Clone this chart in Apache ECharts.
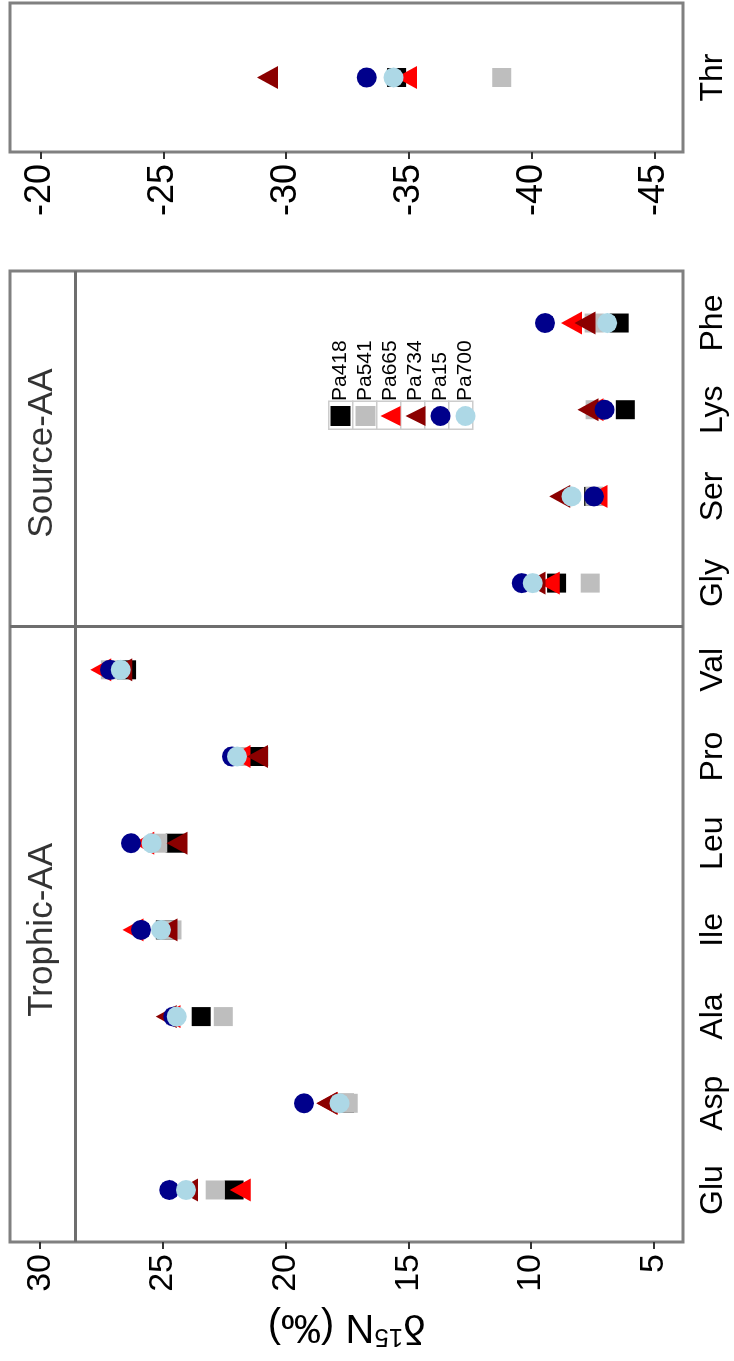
<!DOCTYPE html>
<html><head><meta charset="utf-8">
<script src="https://cdn.jsdelivr.net/npm/echarts@6/dist/echarts.min.js"></script>
<style>
html,body{margin:0;padding:0;background:#fff;overflow:hidden;}
#wrap{position:absolute;left:0;top:0;width:734px;height:1361px;overflow:hidden;background:#fff;}
#chart{position:absolute;left:0;top:0;width:1361px;height:734px;transform-origin:0 0;transform:translateY(1361px) rotate(-90deg);}
</style></head><body>
<div id="wrap"><div id="chart"></div></div>
<script>
// ---- data ----
const categories = ['Glu','Asp','Ala','Ile','Leu','Pro','Val','Gly','Ser','Lys','Phe'];
const thrCategory = ['Thr'];
const seriesNames = ['Pa418','Pa541','Pa665','Pa734','Pa15','Pa700'];
const Pa418 = [22.10, 17.60, 23.44, 24.90, 24.50, 21.10, 26.48, 8.96, 7.45, 6.16, 6.41];
const Pa541 = [22.87, 17.45, 22.54, 24.63, 25.21, 22.00, 27.14, 7.59, 7.40, 7.39, 7.43];
const Pa665 = [21.85, 18.30, 24.71, 26.22, 25.78, 21.86, 27.53, 9.26, 7.31, 7.48, 8.35];
const Pa734 = [24.00, 18.32, 24.86, 24.83, 24.43, 21.15, 26.68, 9.84, 8.83, 7.68, 7.80];
const Pa15  = [24.74, 19.25, 24.58, 25.89, 26.30, 22.19, 27.16, 10.38, 7.44, 7.01, 9.43];
const Pa700 = [24.06, 17.81, 24.44, 25.08, 25.46, 21.98, 26.72, 9.93, 8.35, null, 6.90];
const thrValues = [-34.50, -38.78, -34.90, -29.24, -33.28, -34.37]; // same order as seriesNames
const mainTicks = [5, 10, 15, 20, 25, 30];
const thrTicks = [-45, -40, -35, -30, -25, -20];
const stripLabels = ['Trophic-AA', 'Source-AA'];
const stripCenters = [3, 8.5];
const stripValue = 29.9;
const stripLine = 28.58;
const groupDivider = 6.5;

// ---- styles ----
const colors = ['#000000','#BEBEBE','#FF0000','#8B0000','#00008B','#ADD8E6'];
const symbols = ['rect','rect','triangle','triangle','circle','circle'];
const symSizes = [19, 19, [23, 21], [23, 21], 20, 20];
const allValues = [Pa418, Pa541, Pa665, Pa734, Pa15, Pa700];
const catIdx = categories.map((c, i) => i);

const series = [];
seriesNames.forEach((name, s) => {
  const vals = allValues[s];
  series.push({
    name, type: 'scatter', xAxisIndex: 0, yAxisIndex: 0,
    symbol: symbols[s], symbolSize: symSizes[s],
    itemStyle: { color: colors[s], opacity: 1 },
    data: catIdx.filter(i => vals[i] != null).map(i => [i, vals[i]]),
    z: 10 + s
  });
  series.push({
    name, type: 'scatter', xAxisIndex: 1, yAxisIndex: 1,
    symbol: symbols[s], symbolSize: symSizes[s],
    itemStyle: { color: colors[s], opacity: 1 },
    data: [[thrCategory[0], thrValues[s]]],
    z: 10 + s
  });
});
series.push({
  name: 'strip', type: 'scatter', xAxisIndex: 0, yAxisIndex: 0, silent: true,
  symbolSize: 0,
  data: stripLabels.map((t, i) => [stripCenters[i], stripValue, t]),
  label: { show: true, position: 'inside', formatter: p => p.data[2],
           fontFamily: 'Liberation Sans, Arial, sans-serif', fontSize: 35, color: '#000' },
  markLine: {
    silent: true, symbol: ['none', 'none'], label: { show: false },
    lineStyle: { color: '#6e6e6e', width: 3, type: 'solid' },
    data: [{ yAxis: stripLine }, { xAxis: groupDivider }]
  },
  z: 5
});

const font = 'Liberation Sans, Arial, sans-serif';
const narrow = 'Liberation Sans Narrow, Arial Narrow, Liberation Sans, sans-serif';

// legend layout (ggplot-like keys with grey boxes)
const LEG_LEFT = 935, LEG_TOP = 330, KEY = 20, ROW = 24;
const keyBoxes = seriesNames.map((n, i) => ({
  type: 'rect', z: 3, silent: true,
  left: LEG_LEFT - 4, top: LEG_TOP + ROW * i - 2,
  shape: { width: KEY + 8, height: ROW },
  style: { fill: '#ffffff', stroke: '#cccccc', lineWidth: 1.5 }
}));

const option = {
  backgroundColor: '#fff',
  animation: false,
  grid: [
    { left: 119, top: 10, width: 971, height: 673, show: true, borderColor: '#808080', borderWidth: 3, backgroundColor: 'transparent' },
    { left: 1209, top: 10, width: 149, height: 673, show: true, borderColor: '#808080', borderWidth: 3, backgroundColor: 'transparent' }
  ],
  xAxis: [
    { gridIndex: 0, type: 'value', min: -0.6, max: 10.6,
      axisLine: { show: false, onZero: false }, axisTick: { show: false }, splitLine: { show: false },
      axisLabel: { customValues: catIdx, formatter: v => categories[Math.round(v)],
                   fontFamily: narrow, fontSize: 32, color: '#000', margin: 14 } },
    { gridIndex: 1, type: 'category', data: thrCategory, boundaryGap: true,
      axisLine: { show: false, onZero: false }, axisTick: { show: false }, splitLine: { show: false },
      axisLabel: { fontFamily: narrow, fontSize: 32, color: '#000', margin: 14 } }
  ],
  yAxis: [
    { gridIndex: 0, type: 'value', min: 3.81, max: 31.23,
      axisLine: { show: false, onZero: false }, splitLine: { show: false },
      axisTick: { show: true, customValues: mainTicks, length: 7, lineStyle: { color: '#333', width: 2 } },
      axisLabel: { customValues: mainTicks, fontFamily: font, fontSize: 34, color: '#000', margin: 12 },
      name: '{a|δ}{s|15}{a|N (‰)}', nameLocation: 'middle', nameRotate: 90, nameGap: 61,
      nameTextStyle: { rich: {
        a: { fontFamily: font, fontSize: 40, color: '#000', lineHeight: 46 },
        s: { fontFamily: font, fontSize: 26, color: '#000', lineHeight: 46, verticalAlign: 'top', padding: [0, 0, 16, 0] }
      } } },
    { gridIndex: 1, type: 'value', min: -46.16, max: -18.76,
      axisLine: { show: false, onZero: false }, splitLine: { show: false },
      axisTick: { show: true, customValues: thrTicks, length: 7, lineStyle: { color: '#333', width: 2 } },
      axisLabel: { customValues: thrTicks, fontFamily: font, fontSize: 36, color: '#000', margin: 12 } }
  ],
  legend: {
    data: seriesNames.map((n, i) => ({ name: n, icon: symbols[i] })),
    orient: 'vertical', left: LEG_LEFT, top: LEG_TOP, padding: 0,
    itemWidth: KEY, itemHeight: KEY, itemGap: ROW - KEY,
    textStyle: { fontFamily: font, fontSize: 21, lineHeight: KEY, color: '#000' },
    z: 6
  },
  graphic: keyBoxes,
  series
};
const chart = echarts.init(document.getElementById('chart'), null, { renderer: 'canvas' });
chart.setOption(option);
</script>
</body></html>
